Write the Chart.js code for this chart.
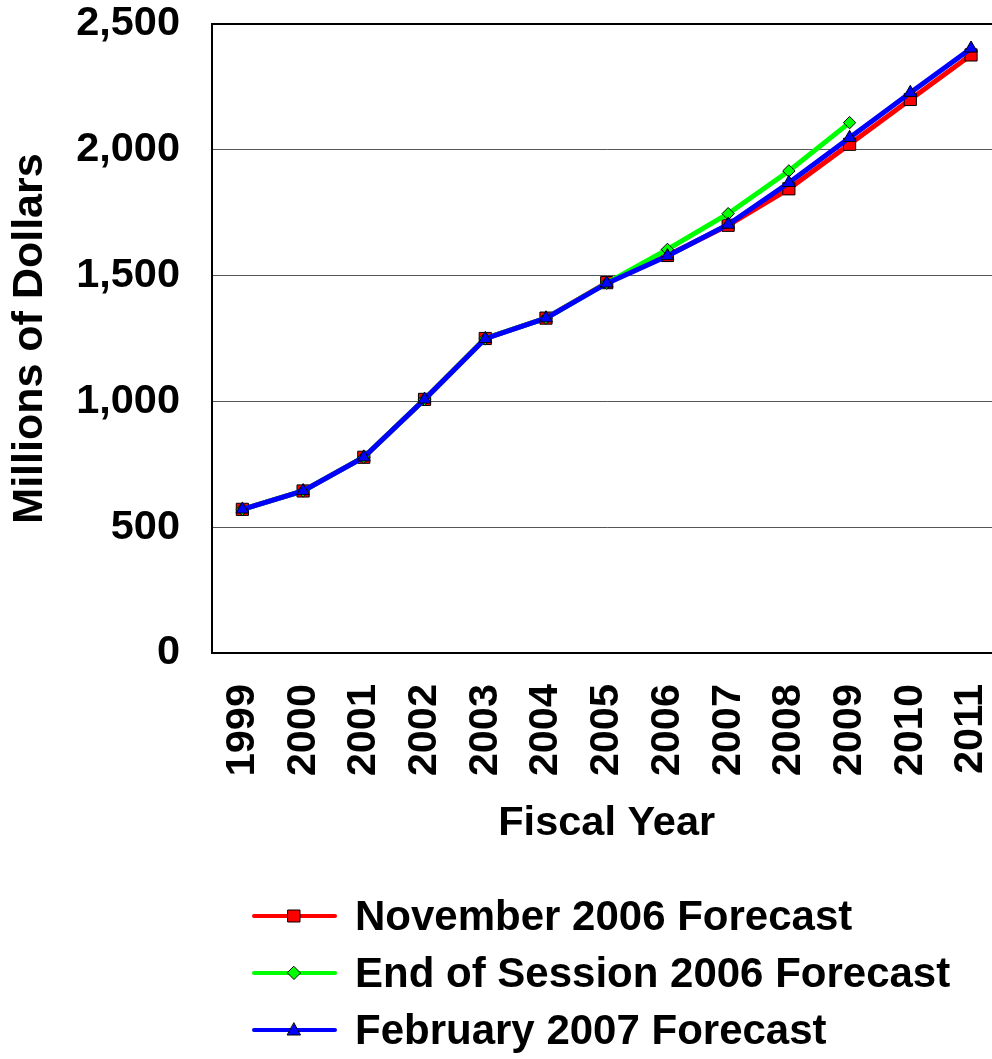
<!DOCTYPE html>
<html>
<head>
<meta charset="utf-8">
<title>General Fund Forecasts</title>
<script src="https://cdn.jsdelivr.net/npm/chart.js@4/dist/chart.umd.min.js"></script>
<style>
  html, body { margin: 0; padding: 0; background: #ffffff; overflow: hidden; }
  #chart { position: absolute; left: 0; top: 0; display: block; }
</style>
</head>
<body>
<canvas id="chart" width="1011" height="1059"></canvas>
<script>
// Fiscal years on the horizontal axis
const years = ['1999', '2000', '2001', '2002', '2003', '2004', '2005',
               '2006', '2007', '2008', '2009', '2010', '2011'];

// Millions of dollars, per forecast
const nov2006Forecast = [571, 644, 778, 1008, 1250, 1331, 1472, 1580, 1700, 1845, 2022, 2200, 2377];
const endOfSession2006Forecast = [571, 644, 778, 1008, 1250, 1331, 1470, 1604, 1746, 1916, 2108, null, null];
const feb2007Forecast = [571, 644, 778, 1008, 1249, 1331, 1469, 1578, 1703, 1869, 2048, 2227, 2403];

const seriesNames = ['November 2006 Forecast', 'End of Session 2006 Forecast', 'February 2007 Forecast'];
const yTickValues = [0, 500, 1000, 1500, 2000, 2500];

const FONT = "'Liberation Sans', Arial, Helvetica, sans-serif";

// Line + marker legend stacked under the axis title
const legendRows = {
  id: 'legendRows',
  afterDraw(chart) {
    const ctx = chart.ctx;
    const rowY = [916, 973, 1030];
    const lineX0 = 254, lineX1 = 335, markX = 294, textX = 355;
    ctx.save();
    chart.data.datasets.forEach((ds, i) => {
      const y = rowY[i];
      ctx.strokeStyle = ds.borderColor;
      ctx.lineWidth = 4;
      ctx.lineCap = 'round';
      ctx.beginPath();
      ctx.moveTo(lineX0, y);
      ctx.lineTo(lineX1, y);
      ctx.stroke();
      ctx.fillStyle = ds.pointBackgroundColor;
      ctx.strokeStyle = '#000000';
      ctx.lineWidth = 1;
      ctx.beginPath();
      if (ds.pointStyle === 'rect') {
        ctx.rect(markX - 6, y - 6, 12, 12);
      } else if (ds.pointStyle === 'rectRot') {
        ctx.moveTo(markX, y - 6.5); ctx.lineTo(markX + 6.5, y);
        ctx.lineTo(markX, y + 6.5); ctx.lineTo(markX - 6.5, y);
        ctx.closePath();
      } else {
        ctx.moveTo(markX, y - 7); ctx.lineTo(markX + 6.5, y + 5);
        ctx.lineTo(markX - 6.5, y + 5);
        ctx.closePath();
      }
      ctx.fill();
      ctx.stroke();
      ctx.fillStyle = '#000000';
      ctx.font = 'bold 42px ' + FONT;
      ctx.textAlign = 'left';
      ctx.textBaseline = 'middle';
      ctx.fillText(ds.label, textX, y + 2);
    });
    ctx.restore();
  }
};

new Chart(document.getElementById('chart'), {
  type: 'line',
  data: {
    labels: years,
    datasets: [
      {
        label: seriesNames[0],
        data: nov2006Forecast,
        borderColor: '#ff0000',
        backgroundColor: '#ff0000',
        pointBackgroundColor: '#ff0000',
        pointBorderColor: '#000000',
        pointBorderWidth: 1,
        pointStyle: 'rect',
        pointRadius: 8.6,
        borderWidth: 5,
        order: 3
      },
      {
        label: seriesNames[1],
        data: endOfSession2006Forecast,
        borderColor: '#00ff00',
        backgroundColor: '#00ff00',
        pointBackgroundColor: '#00ff00',
        pointBorderColor: '#000000',
        pointBorderWidth: 1,
        pointStyle: 'rectRot',
        pointRadius: 6.2,
        borderWidth: 5,
        order: 2
      },
      {
        label: seriesNames[2],
        data: feb2007Forecast,
        borderColor: '#0000ff',
        backgroundColor: '#0000ff',
        pointBackgroundColor: '#0000ff',
        pointBorderColor: '#000000',
        pointBorderWidth: 1,
        pointStyle: 'triangle',
        pointRadius: 7.4,
        borderWidth: 5,
        order: 1
      }
    ]
  },
  options: {
    responsive: false,
    animation: false,
    spanGaps: false,
    layout: { padding: { left: 0, right: 0, top: 0, bottom: 199 } },
    plugins: {
      legend: { display: false },
      tooltip: { enabled: false }
    },
    scales: {
      x: {
        type: 'category',
        offset: true,
        grid: { display: false, drawTicks: false },
        border: { display: true, color: '#000000', width: 2 },
        ticks: {
          autoSkip: false,
          minRotation: 90,
          maxRotation: 90,
          padding: 31,
          color: '#000000',
          font: { family: FONT, size: 41.5, weight: 'bold' }
        },
        title: {
          display: true,
          text: 'Fiscal Year',
          color: '#000000',
          font: { family: FONT, size: 41.5, weight: 'bold' },
          padding: { top: 22, bottom: 12 }
        },
        afterFit(scale) {
          // fixed band under the plot for the year labels and title
          scale.height = 207;
          scale.paddingLeft = 0;
          scale.paddingRight = 0;
        }
      },
      y: {
        min: 0,
        max: 2500,
        afterBuildTicks(scale) {
          scale.ticks = yTickValues.map(v => ({ value: v }));
        },
        grid: {
          drawTicks: false,
          color: ctx => (ctx.tick && ctx.tick.value === 2500 ? '#000000' : '#555555'),
          lineWidth: ctx => (ctx.tick && ctx.tick.value === 2500 ? 2 : 1)
        },
        border: { display: true, color: '#000000', width: 2 },
        ticks: {
          padding: 32,
          color: '#000000',
          font: { family: FONT, size: 41.5, weight: 'bold' },
          callback: v => Number(v).toLocaleString('en-US')
        },
        title: {
          display: true,
          text: 'Millions of Dollars',
          color: '#000000',
          font: { family: FONT, size: 43, weight: 'bold' },
          padding: { top: 4, bottom: 4 }
        },
        afterFit(scale) {
          // fixed band left of the plot for the value labels and title
          scale.width = 212;
          scale.paddingTop = 24;
          scale.paddingBottom = 0;
        }
      }
    }
  },
  plugins: [legendRows]
});
</script>
</body>
</html>
